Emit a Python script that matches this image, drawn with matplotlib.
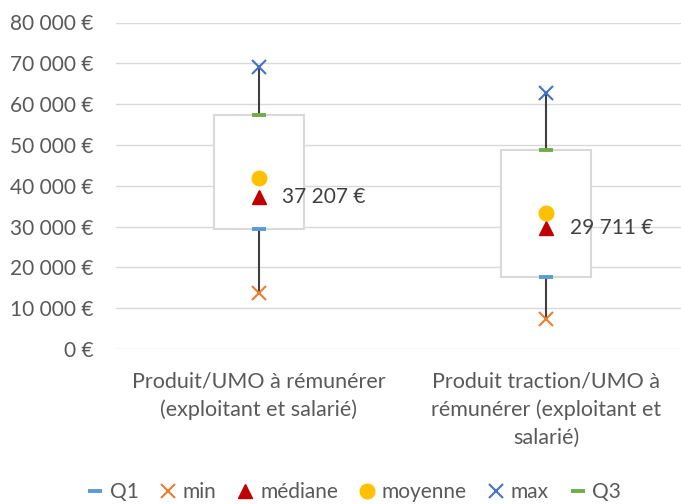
import matplotlib
matplotlib.use("Agg")
import matplotlib.pyplot as plt
from matplotlib.patches import Rectangle

categories = ["Produit/UMO à rémunérer\n(exploitant et salarié)",
              "Produit traction/UMO à\nrémunérer (exploitant et\nsalarié)"]
q1 = [29450, 17740]
q3 = [57420, 48830]
vmin = [13700, 7300]
vmax = [69100, 62700]
median = [37207, 29711]
mean = [41900, 33400]
median_labels = ["37 207 €", "29 711 €"]
yticks = [0, 10000, 20000, 30000, 40000, 50000, 60000, 70000, 80000]
ytick_labels = ["0 €", "10 000 €", "20 000 €", "30 000 €", "40 000 €",
                "50 000 €", "60 000 €", "70 000 €", "80 000 €"]

FONT = "Lato"
plt.rcParams['font.family'] = [FONT, 'DejaVu Sans']
TXT = "#595959"

fig = plt.figure(figsize=(6.81, 5.04), dpi=100)
ax = fig.add_axes([116/681, 1-349/504, 1-116/681, (349-22.5)/504])
ax.set_xlim(-0.497, 1.47)
ax.set_ylim(0, 80000)

for s in ax.spines.values():
    s.set_visible(False)
ax.set_yticks(yticks)
ax.set_yticklabels(ytick_labels)
ax.yaxis.grid(True, color="#d9d9d9", linewidth=1.0)
ax.set_axisbelow(True)
ax.tick_params(axis='y', length=0, pad=16, labelsize=15, labelcolor=TXT)
ax.set_xticks(range(len(categories)))
ax.set_xticklabels(categories, linespacing=1.5)
ax.tick_params(axis='x', length=0, pad=16, labelsize=15.5, labelcolor=TXT)

xs = list(range(len(categories)))
bw = 90/287
for i in xs:
    ax.add_patch(Rectangle((i - bw/2, q1[i]), bw, q3[i]-q1[i], facecolor="white",
                           edgecolor="#d9d9d9", linewidth=1.5, zorder=2))
    ax.plot([i, i], [q3[i], vmax[i]], color="#404040", lw=1.5, zorder=3)
    ax.plot([i, i], [vmin[i], q1[i]], color="#404040", lw=1.5, zorder=3)

ms = 10.5
h_q1, = ax.plot(xs, q1, ls="none", marker="_", ms=ms, mew=2.8, color="#5b9bd5", zorder=4)
h_min, = ax.plot(xs, vmin, ls="none", marker="x", ms=ms, mew=1.5, color="#ed7d31", zorder=4)
h_med, = ax.plot(xs, median, ls="none", marker="^", ms=9.5, color="#c00000", zorder=4)
h_mean, = ax.plot(xs, mean, ls="none", marker="o", ms=ms, color="#ffc000", zorder=4)
h_max, = ax.plot(xs, vmax, ls="none", marker="x", ms=ms, mew=1.5, color="#4472c4", zorder=4)
h_q3, = ax.plot(xs, q3, ls="none", marker="_", ms=ms, mew=2.8, color="#70ad47", zorder=4)

for i in xs:
    ax.annotate(median_labels[i], (i, median[i]), xytext=(17, 0), textcoords="offset points",
                ha="left", va="center", fontsize=15, color="#404040", zorder=5)

fig.legend([h_q1, h_min, h_med, h_mean, h_max, h_q3],
           ["Q1", "min", "médiane", "moyenne", "max", "Q3"],
           loc="center", bbox_to_anchor=(354/681, 1-492/504), ncol=6, frameon=False,
           fontsize=15, labelcolor=TXT, handlelength=0.8, handletextpad=0.3,
           columnspacing=1.0, borderaxespad=0)

fig.savefig("out.png", dpi=100)
